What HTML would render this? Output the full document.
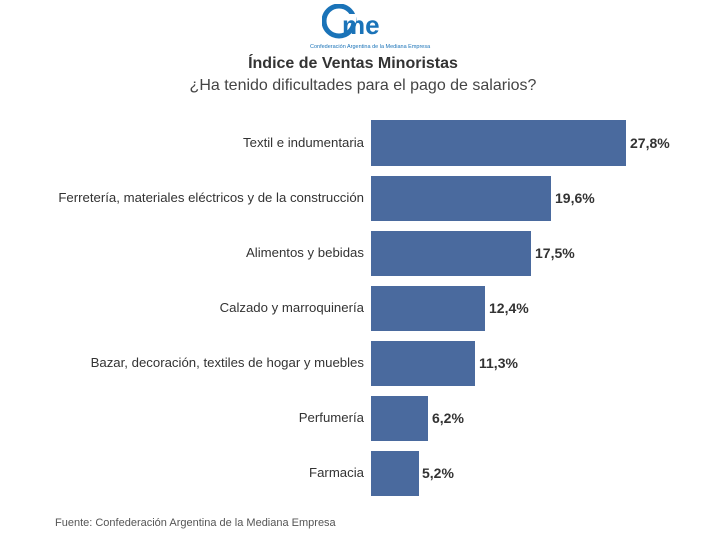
<!DOCTYPE html>
<html><head><style>
body{margin:0;width:706px;height:549px;background:#fff;font-family:"Liberation Sans",sans-serif;position:relative;overflow:hidden;color:#333}
.bar{position:absolute;left:371px;height:45px;background:#4a6a9e}
.lab{position:absolute;right:342px;font-size:13.2px;color:#333;text-align:right;white-space:nowrap}
.val{position:absolute;font-size:14px;font-weight:bold;color:#333}
</style></head><body>
<div style="position:absolute;left:322px;top:4px;width:80px;height:38px">
<svg width="80" height="38" viewBox="0 0 80 38">
<circle cx="17" cy="17" r="15" fill="none" stroke="#1a73b8" stroke-width="5"/>
<rect x="24" y="10" width="10" height="10" fill="#fff"/>
<text x="20" y="30" font-family="Liberation Sans" font-weight="bold" font-size="26" fill="#1a73b8">me</text>
</svg>
<div style="position:absolute;left:-12px;top:40px;width:104px;text-align:center;font-size:5.5px;color:#1a73b8;white-space:nowrap">Confederación Argentina de la Mediana Empresa</div>
</div>
<div style="position:absolute;left:0;width:706px;top:55px;text-align:center;font-size:16px;font-weight:bold;color:#333">Índice de Ventas Minoristas</div>
<div style="position:absolute;left:0;width:726px;top:77px;text-align:center;font-size:16px;color:#444">¿Ha tenido dificultades para el pago de salarios?</div>

<div class="bar" style="top:120px;width:255px;height:46px"></div>
<div class="lab" style="top:135px">Textil e indumentaria</div><div class="val" style="left:630px;top:135px">27,8%</div>
<div class="bar" style="top:176px;width:180px"></div>
<div class="lab" style="top:190px">Ferretería, materiales eléctricos y de la construcción</div><div class="val" style="left:555px;top:190px">19,6%</div>
<div class="bar" style="top:231px;width:160px"></div>
<div class="lab" style="top:245px">Alimentos y bebidas</div><div class="val" style="left:535px;top:245px">17,5%</div>
<div class="bar" style="top:286px;width:114px"></div>
<div class="lab" style="top:300px">Calzado y marroquinería</div><div class="val" style="left:489px;top:300px">12,4%</div>
<div class="bar" style="top:341px;width:104px"></div>
<div class="lab" style="top:355px">Bazar, decoración, textiles de hogar y muebles</div><div class="val" style="left:479px;top:355px">11,3%</div>
<div class="bar" style="top:396px;width:57px"></div>
<div class="lab" style="top:410px">Perfumería</div><div class="val" style="left:432px;top:410px">6,2%</div>
<div class="bar" style="top:451px;width:48px"></div>
<div class="lab" style="top:465px">Farmacia</div><div class="val" style="left:422px;top:465px">5,2%</div>

<div style="position:absolute;left:55px;top:517px;font-size:11px;color:#555">Fuente: Confederación Argentina de la Mediana Empresa</div>
</body></html>
